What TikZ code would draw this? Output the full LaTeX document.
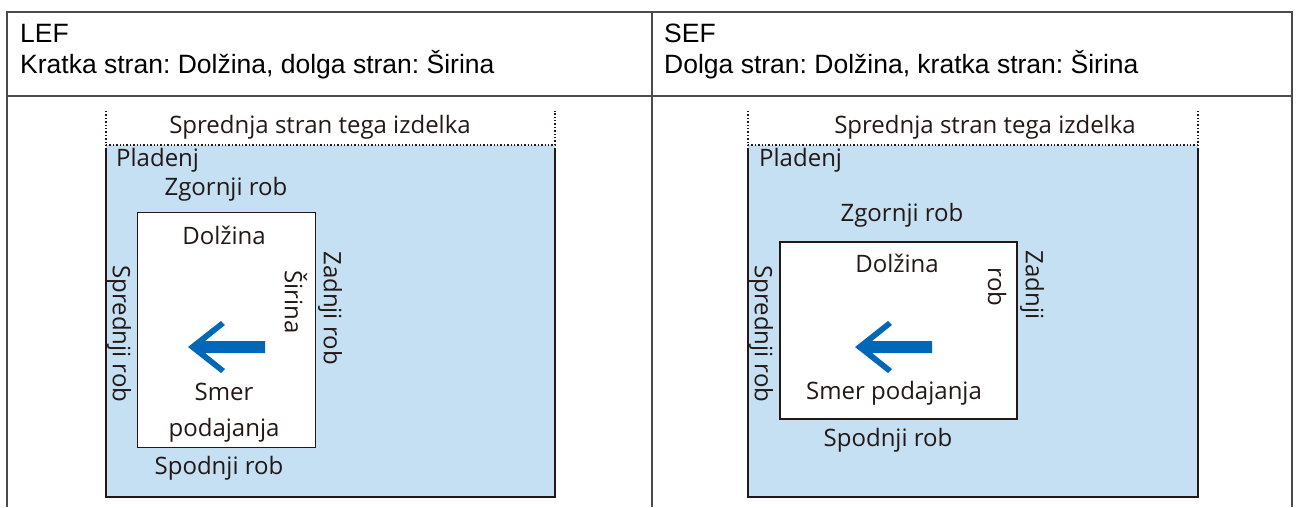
\documentclass[tikz,border=0pt]{standalone}
\usepackage{fontspec}
\setmainfont{Open Sans}
\newfontfamily\hdrfont{Liberation Sans}
\frenchspacing
\definecolor{tray}{HTML}{C5DFF3}
\definecolor{ink}{HTML}{231815}
\definecolor{feed}{HTML}{0068B7}
\definecolor{rule}{HTML}{4A4A4A}
\tikzset{
  tbl/.style={draw=rule, line width=1.3pt},
  hdr/.style={inner sep=0pt, anchor=west, font=\hdrfont\fontsize{26.5}{30}\selectfont, text=black},
  lbl/.style={inner sep=0pt, font=\fontsize{24}{28}\selectfont, text=ink},
  vlbl/.style={lbl, rotate=-90},
  trayedge/.style={draw=ink, line width=1.8pt},
  dotline/.style={draw=ink, line width=1.4pt, dotted},
  paper/.style={draw=ink, line width=1.8pt, fill=white},
  feedarrow/.style={fill=feed, draw=none}
}
\begin{document}
\begin{tikzpicture}[x=1pt,y=-1pt]
\useasboundingbox (0,0) rectangle (1300,507);
% table
\coordinate (tl) at (7,12);
\coordinate (tr) at (1292,12);
\coordinate (tm) at (652,12);
\coordinate (bl) at (7,507);
\coordinate (br) at (1292,507);
\coordinate (bm) at (652,507);
\coordinate (hl) at (7,96);
\coordinate (hr) at (1292,96);
\draw[tbl] (bl) -- (tl) -- (tr) -- (br);
\draw[tbl] (tm) -- (bm);
\draw[tbl] (hl) -- (hr);
\node[hdr] (lef) at (20,33) {LEF};
\node[hdr] (lefd) at (20,65) {Kratka stran: Dolžina, dolga stran: Širina};
\node[hdr] (sef) at (664,33) {SEF};
\node[hdr] (sefd) at (664,65) {Dolga stran: Dolžina, kratka stran: Širina};

% ---------- left panel ----------
\fill[tray] (106,145) rectangle (555,497);
\coordinate (L1) at (106,111);
\coordinate (L2) at (106,145);
\coordinate (L3) at (555,145);
\coordinate (L4) at (555,111);
\coordinate (L5) at (106,148);
\coordinate (L6) at (106,497);
\coordinate (L7) at (555,497);
\coordinate (L8) at (555,148);
\draw[dotline] (L1) -- (L2) -- (L3) -- (L4);
\draw[trayedge] (L5) -- (L6) -- (L7) -- (L8);
\node[lbl] (lfront) at (320,127) {Sprednja stran tega izdelka};
\node[lbl, anchor=west] (ltray) at (116,160) {Pladenj};
\node[lbl] (ltop) at (226,189) {Zgornji rob};
\node[paper, minimum width=178pt, minimum height=235pt, inner sep=0pt] (lpaper) at (226.5,330) {};
\node[lbl] (llen) at (224,235) {Dolžina};
\node[vlbl] (lwid) at (296,302) {Širina};
\node[vlbl] (lback) at (330,308) {Zadnji rob};
\node[vlbl] (lfe) at (119,334) {Sprednji rob};
\node[lbl] (lsmer) at (224,392) {Smer};
\node[lbl] (lpod) at (224,430) {podajanja};
\node[lbl] (lbot) at (219,468) {Spodnji rob};
\fill[feedarrow] (188,347) -- (221,321) -- (225,325) -- (205,341) -- (265,341) -- (265,353) -- (205,353) -- (225,369) -- (221,373) -- cycle;

% ---------- right panel ----------
\fill[tray] (748,145) rectangle (1198,497);
\coordinate (R1) at (748,111);
\coordinate (R2) at (748,145);
\coordinate (R3) at (1198,145);
\coordinate (R4) at (1198,111);
\coordinate (R5) at (748,148);
\coordinate (R6) at (748,497);
\coordinate (R7) at (1198,497);
\coordinate (R8) at (1198,148);
\draw[dotline] (R1) -- (R2) -- (R3) -- (R4);
\draw[trayedge] (R5) -- (R6) -- (R7) -- (R8);
\node[lbl] (rfront) at (985,127) {Sprednja stran tega izdelka};
\node[lbl, anchor=west] (rtray) at (759,160) {Pladenj};
\node[lbl] (rtop) at (902,215) {Zgornji rob};
\node[paper, minimum width=237pt, minimum height=177pt, inner sep=0pt] (rpaper) at (898.5,330.5) {};
\node[lbl] (rlen) at (897,263) {Dolžina};
\node[vlbl] (rrob) at (997,287) {rob};
\node[vlbl] (rback) at (1032,285) {Zadnji};
\node[vlbl] (rfe) at (761,334) {Sprednji rob};
\node[lbl] (rsmer) at (894,393) {Smer podajanja};
\node[lbl] (rbot) at (888,440) {Spodnji rob};
\fill[feedarrow] (855,347) -- (888,321) -- (892,325) -- (872,341) -- (932,341) -- (932,353) -- (872,353) -- (892,369) -- (888,373) -- cycle;
\end{tikzpicture}
\end{document}
